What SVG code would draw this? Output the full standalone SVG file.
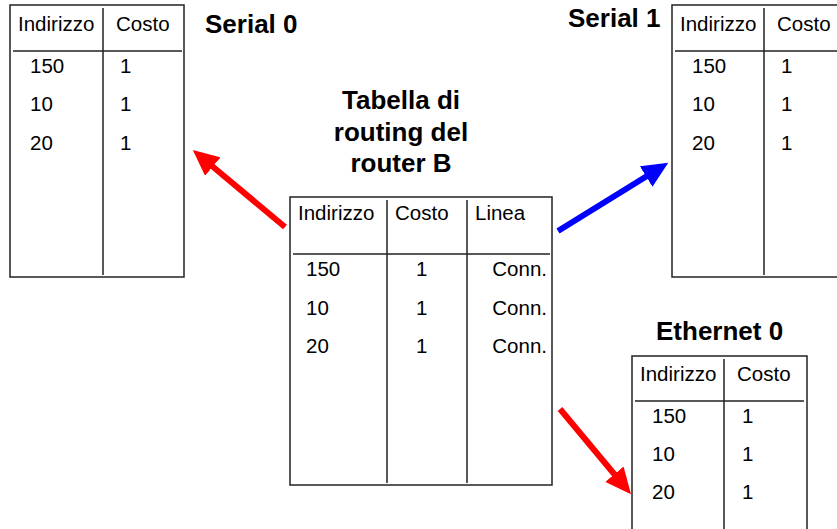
<svg xmlns="http://www.w3.org/2000/svg" width="837" height="529" viewBox="0 0 837 529">
  <style>
    .frame { fill: #fff; stroke: #222; stroke-width: 1.5; }
    .rule { stroke: #222; stroke-width: 1.5; fill: none; }
    .cell { font-family: "Liberation Sans", Arial, sans-serif; font-size: 20.5px; fill: #000; }
    .title { font-family: "Liberation Sans", Arial, sans-serif; font-size: 26px; font-weight: bold; fill: #000; }
    .arrow { stroke-width: 6; fill: none; }
  </style>
  <defs>
    <marker id="headRed" markerUnits="userSpaceOnUse" markerWidth="26" markerHeight="24" viewBox="0 0 26 24" refX="1" refY="12" orient="auto">
      <path d="M0,0 L26,12 L0,24 z" fill="#f00"/>
    </marker>
    <marker id="headBlue" markerUnits="userSpaceOnUse" markerWidth="26" markerHeight="24" viewBox="0 0 26 24" refX="1" refY="12" orient="auto">
      <path d="M0,0 L26,12 L0,24 z" fill="#00f"/>
    </marker>
  </defs>

  <!-- Serial 0 table -->
  <g id="serial0">
    <rect class="frame" x="10" y="5" width="174" height="272"/>
    <line class="rule" x1="103" y1="8" x2="103" y2="275"/>
    <line class="rule" x1="13" y1="51" x2="182" y2="51"/>
    <text class="cell" x="18" y="31">Indirizzo</text>
    <text class="cell" x="116" y="31">Costo</text>
    <text class="cell" x="30" y="73">150</text>
    <text class="cell" x="120" y="73">1</text>
    <text class="cell" x="30" y="111">10</text>
    <text class="cell" x="120" y="111">1</text>
    <text class="cell" x="30" y="150">20</text>
    <text class="cell" x="120" y="150">1</text>
    <text class="title" x="205" y="33">Serial 0</text>
  </g>

  <!-- Serial 1 table -->
  <g id="serial1">
    <rect class="frame" x="672" y="5" width="180" height="272"/>
    <line class="rule" x1="764" y1="8" x2="764" y2="275"/>
    <line class="rule" x1="675" y1="51" x2="837" y2="51"/>
    <text class="cell" x="680" y="31">Indirizzo</text>
    <text class="cell" x="777" y="31">Costo</text>
    <text class="cell" x="692" y="73">150</text>
    <text class="cell" x="781" y="73">1</text>
    <text class="cell" x="692" y="111">10</text>
    <text class="cell" x="781" y="111">1</text>
    <text class="cell" x="692" y="150">20</text>
    <text class="cell" x="781" y="150">1</text>
    <text class="title" x="568" y="27">Serial 1</text>
  </g>

  <!-- Router B routing table -->
  <g id="routerB">
    <text class="title" text-anchor="middle" x="401" y="109">Tabella di</text>
    <text class="title" text-anchor="middle" x="401" y="141">routing del</text>
    <text class="title" text-anchor="middle" x="401" y="172">router B</text>
    <rect class="frame" x="290" y="197" width="262" height="288"/>
    <line class="rule" x1="387" y1="200" x2="387" y2="483"/>
    <line class="rule" x1="467" y1="200" x2="467" y2="483"/>
    <line class="rule" x1="293" y1="254" x2="550" y2="254"/>
    <text class="cell" x="298" y="220">Indirizzo</text>
    <text class="cell" x="395" y="220">Costo</text>
    <text class="cell" x="475" y="220">Linea</text>
    <text class="cell" x="306" y="276">150</text>
    <text class="cell" x="416" y="276">1</text>
    <text class="cell" x="547" y="276" text-anchor="end">Conn.</text>
    <text class="cell" x="306" y="315">10</text>
    <text class="cell" x="416" y="315">1</text>
    <text class="cell" x="547" y="315" text-anchor="end">Conn.</text>
    <text class="cell" x="306" y="353">20</text>
    <text class="cell" x="416" y="353">1</text>
    <text class="cell" x="547" y="353" text-anchor="end">Conn.</text>
  </g>

  <!-- Ethernet 0 table -->
  <g id="ethernet0">
    <text class="title" x="656" y="340">Ethernet 0</text>
    <rect class="frame" x="632" y="356" width="175" height="190"/>
    <line class="rule" x1="724" y1="359" x2="724" y2="529"/>
    <line class="rule" x1="635" y1="401" x2="804" y2="401"/>
    <text class="cell" x="640" y="381">Indirizzo</text>
    <text class="cell" x="737" y="381">Costo</text>
    <text class="cell" x="652" y="423">150</text>
    <text class="cell" x="742" y="423">1</text>
    <text class="cell" x="652" y="461">10</text>
    <text class="cell" x="742" y="461">1</text>
    <text class="cell" x="652" y="499">20</text>
    <text class="cell" x="742" y="499">1</text>
  </g>

  <!-- Connectors -->
  <g id="connectors">
    <line class="arrow" stroke="#f00" x1="285" y1="227" x2="212" y2="166" marker-end="url(#headRed)"/>
    <line class="arrow" stroke="#00f" x1="558" y1="231" x2="647" y2="176" marker-end="url(#headBlue)"/>
    <line class="arrow" stroke="#f00" x1="560" y1="409" x2="615" y2="475" marker-end="url(#headRed)"/>
  </g>
</svg>
